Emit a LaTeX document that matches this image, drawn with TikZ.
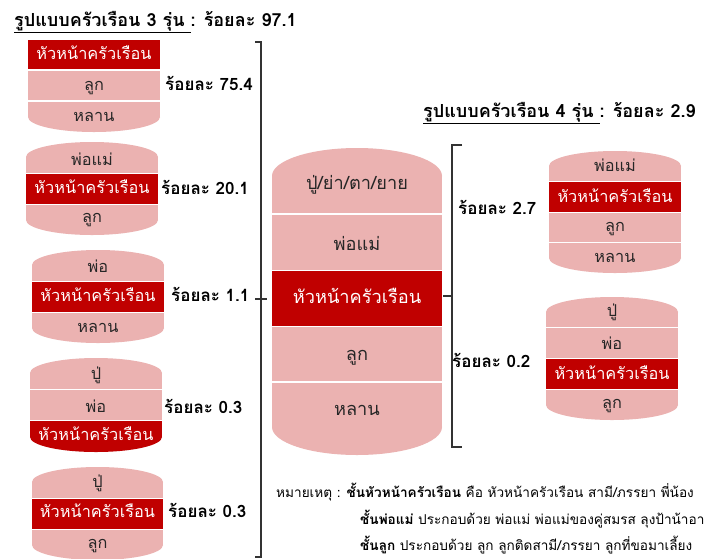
\documentclass[tikz,border=0pt]{standalone}
\usepackage{fontspec}
\setmainfont[Script=Thai]{Loma}
\definecolor{pinkL}{HTML}{EBB2B1}
\definecolor{redD}{HTML}{C00000}
\definecolor{txt}{HTML}{262626}
\newcommand\topcap[6]{%
  \fill[#1] ({#2-#3},{#4+#6}) rectangle ({#2+#3},#5);
  \fill[#1] (#2,{#4+#6}) ellipse[x radius=#3pt, y radius=#6pt];}
\newcommand\botcap[6]{%
  \fill[#1] ({#2-#3},#4) rectangle ({#2+#3},{#5-#6});
  \fill[#1] (#2,{#5-#6}) ellipse[x radius=#3pt, y radius=#6pt];}
\newcommand\midlay[5]{%
  \fill[#1] ({#2-#3},#4) rectangle ({#2+#3},#5);}
\newcommand\sepl[3]{%
  \draw[sepline] ({#1-#2-1},#3) -- ({#1+#2+1},#3);}
\tikzset{
  lay/.style={font=\fontsize{16.3}{19}\selectfont, text=txt, inner sep=0pt, text height=11.5pt, text depth=3pt},
  layw/.style={lay, text=white},
  big/.style={font=\fontsize{18.2}{21}\selectfont, text=txt, inner sep=0pt, text height=12.5pt, text depth=3pt},
  bigw/.style={big, text=white},
  pct/.style={font=\bfseries\fontsize{17}{20}\selectfont, anchor=west, inner sep=0pt, text height=12pt, text depth=3pt},
  ttl/.style={font=\bfseries\fontsize{18}{20}\selectfont, anchor=west, inner sep=0pt, text height=12pt, text depth=3pt},
  sepline/.style={white, line width=1.5pt},
  brk/.style={draw=black!80, line width=1.1pt},
  note/.style={font=\fontsize{13.6}{16}\selectfont, anchor=west, inner sep=0pt, text height=10pt, text depth=3pt},
}
\begin{document}
\begin{tikzpicture}[x=1pt, y=-1pt]
\useasboundingbox (0,0) rectangle (707,558);
\fill[white] (0,0) rectangle (707,558);

% titles
\node[ttl] (t1) at (14,22) {\underline{รูปแบบครัวเรือน 3 รุ่น\ }: ร้อยละ 97.1};
\node[ttl] (t2) at (423,113) {\underline{รูปแบบครัวเรือน 4 รุ่น\ }: ร้อยละ 2.9};

% cylinder 1
\midlay{redD}{94}{66}{40}{70}
\midlay{pinkL}{94}{66}{70}{101}
\botcap{pinkL}{94}{66}{101}{132}{15}
\sepl{94}{66}{70}\sepl{94}{66}{101}
\node[layw] (a1) at (94,55) {หัวหน้าครัวเรือน};
\node[lay] (a2) at (94,86) {ลูก};
\node[lay] (a3) at (94,117) {หลาน};
\node[pct] (pa) at (165,86) {ร้อยละ 75.4};

% cylinder 2
\topcap{pinkL}{92}{66}{142}{173.5}{15}
\midlay{redD}{92}{66}{173.5}{204.5}
\botcap{pinkL}{92}{66}{204.5}{235}{15}
\sepl{92}{66}{173.5}\sepl{92}{66}{204.5}
\node[lay] (b1) at (92,161) {พ่อแม่};
\node[layw] (b2) at (92,189) {หัวหน้าครัวเรือน};
\node[lay] (b3) at (92,218) {ลูก};
\node[pct] (pb) at (161,190) {ร้อยละ 20.1};

% cylinder 3
\topcap{pinkL}{98}{66}{250}{281.5}{15}
\midlay{redD}{98}{66}{281.5}{312.5}
\botcap{pinkL}{98}{66}{312.5}{343}{15}
\sepl{98}{66}{281.5}\sepl{98}{66}{312.5}
\node[lay] (c1) at (98,268) {พ่อ};
\node[layw] (c2) at (98,297) {หัวหน้าครัวเรือน};
\node[lay] (c3) at (98,328) {หลาน};
\node[pct] (pc) at (171,297) {ร้อยละ 1.1};

% cylinder 4
\topcap{pinkL}{96}{66}{358}{389.5}{15}
\midlay{pinkL}{96}{66}{389.5}{420.5}
\botcap{redD}{96}{66}{420.5}{452}{15}
\sepl{96}{66}{389.5}\sepl{96}{66}{420.5}
\node[lay] (d1) at (96,375) {ปู่};
\node[lay] (d2) at (96,408) {พ่อ};
\node[layw] (d3) at (96,436) {หัวหน้าครัวเรือน};
\node[pct] (pd) at (164,409) {ร้อยละ 0.3};

% cylinder 5
\topcap{pinkL}{97.5}{65.5}{467}{498.5}{15}
\midlay{redD}{97.5}{65.5}{498.5}{529.5}
\botcap{pinkL}{97.5}{65.5}{529.5}{560}{15}
\sepl{97.5}{65.5}{498.5}\sepl{97.5}{65.5}{529.5}
\node[lay] (e1) at (97.5,483) {ปู่};
\node[layw] (e2) at (97.5,513) {หัวหน้าครัวเรือน};
\node[lay] (e3) at (97.5,544) {ลูก};
\node[pct] (pe) at (168,513) {ร้อยละ 0.3};

% left bracket
\draw[brk] (255,42) -- (261,42) -- (261,557) -- (255,557);
\draw[brk] (255,299) -- (267,299);

% central cylinder
\topcap{pinkL}{357}{85}{148}{214}{28}
\midlay{pinkL}{357}{85}{214}{270.5}
\midlay{redD}{357}{85}{270.5}{326}
\midlay{pinkL}{357}{85}{326}{382}
\botcap{pinkL}{357}{85}{382}{455}{28}
\sepl{357}{85}{214}\sepl{357}{85}{382}
\draw[white, line width=0.6pt] (272,270.5) -- (442,270.5) (272,326) -- (442,326);
\node[big] (m1) at (357,185) {ปู่/ย่า/ตา/ยาย};
\node[big] (m2) at (357,246) {พ่อแม่};
\node[bigw] (m3) at (357,299) {หัวหน้าครัวเรือน};
\node[big] (m4) at (357,356) {ลูก};
\node[big] (m5) at (357,411) {หลาน};

% right bracket
\draw[brk] (462,145) -- (452,145) -- (452,447) -- (462,447);
\draw[brk] (452,296) -- (443,296);

% right cylinder A
\topcap{pinkL}{615}{66}{151}{181.5}{15}
\midlay{redD}{615}{66}{181.5}{212.5}
\midlay{pinkL}{615}{66}{212.5}{242.5}
\botcap{pinkL}{615}{66}{242.5}{273}{15}
\sepl{615}{66}{181.5}\sepl{615}{66}{212.5}\sepl{615}{66}{242.5}
\node[lay] (r1) at (615,167) {พ่อแม่};
\node[layw] (r2) at (615,198) {หัวหน้าครัวเรือน};
\node[lay] (r3) at (615,227) {ลูก};
\node[lay] (r4) at (615,258) {หลาน};
\node[pct] (pr) at (458,210) {ร้อยละ 2.7};

% right cylinder B
\topcap{pinkL}{612}{66}{297}{327.5}{15}
\midlay{pinkL}{612}{66}{327.5}{358.5}
\midlay{redD}{612}{66}{358.5}{389.5}
\botcap{pinkL}{612}{66}{389.5}{420}{15}
\sepl{612}{66}{327.5}\sepl{612}{66}{358.5}\sepl{612}{66}{389.5}
\node[lay] (s1) at (612,312) {ปู่};
\node[lay] (s2) at (612,345) {พ่อ};
\node[layw] (s3) at (612,375) {หัวหน้าครัวเรือน};
\node[lay] (s4) at (612,404) {ลูก};
\node[pct] (ps) at (452,363) {ร้อยละ 0.2};

% notes
\node[note] (n1) at (276,494) {หมายเหตุ : \textbf{ชั้นหัวหน้าครัวเรือน} คือ หัวหน้าครัวเรือน สามี/ภรรยา พี่น้อง};
\node[note] (n2) at (360,521) {\textbf{ชั้นพ่อแม่} ประกอบด้วย พ่อแม่ พ่อแม่ของคู่สมรส ลุงป้าน้าอา};
\node[note] (n3) at (360,547) {\textbf{ชั้นลูก} ประกอบด้วย ลูก ลูกติดสามี/ภรรยา ลูกที่ขอมาเลี้ยง};
\end{tikzpicture}
\end{document}
